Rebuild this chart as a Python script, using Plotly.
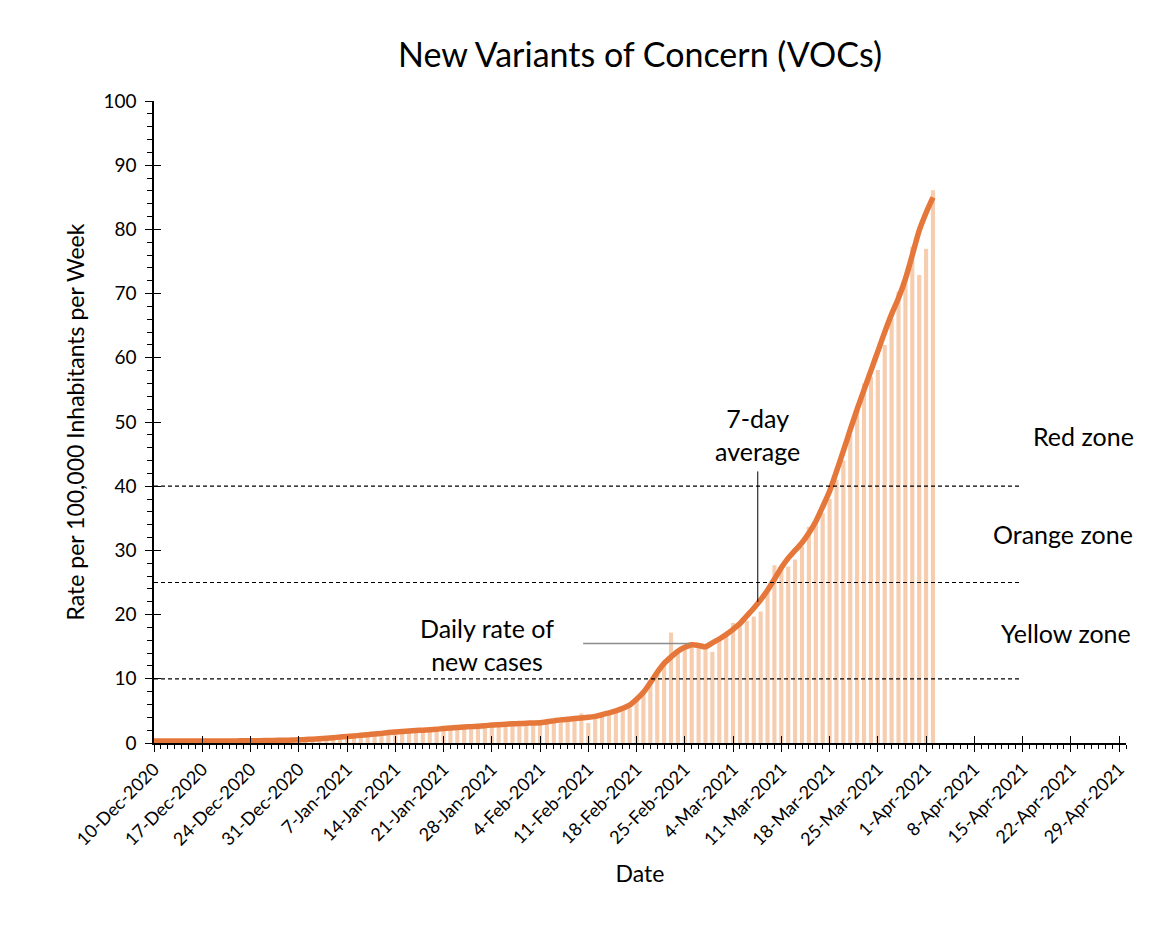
import plotly.graph_objects as go
import pandas as pd

# daily dates, 10-Dec-2020 .. 2-Apr-2021
dates = pd.date_range("2020-12-10", "2021-04-02", freq="D")

# daily rate of new VOC cases (per 100,000 per week)
daily_rate = [
    0.2, 0.3, 0.3, 0.2, 0.3, 0.3, 0.2,
    0.3, 0.3, 0.3, 0.3, 0.4, 0.3, 0.3,
    0.4, 0.4, 0.3, 0.4, 0.5, 0.4, 0.5,
    0.5, 0.6, 0.6, 0.7, 0.8, 0.8, 0.9,
    1.0, 1.1, 1.1, 1.3, 1.3, 1.4, 1.5,
    1.6, 1.7, 1.8, 1.8, 1.9, 2.0, 2.1,
    2.2, 2.2, 2.3, 2.4, 2.5, 2.5, 2.6,
    2.7, 2.8, 2.8, 2.9, 2.9, 3.0, 3.0,
    3.1, 3.2, 3.4, 3.5, 3.5, 3.6, 4.6,
    3.1, 4.0, 4.2, 4.4, 4.9, 5.1, 5.4,
    6.7, 7.8, 9.3, 11.1, 12.4, 17.2, 14.0,
    15.0, 15.0, 15.0, 15.3, 14.2, 16.3, 16.8,
    18.7, 18.6, 19.0, 19.7, 20.5, 23.5, 27.7,
    27.0, 27.5, 28.6, 30.6, 33.7, 34.2, 35.8,
    38.0, 41.0, 44.0, 48.0, 52.4, 56.0, 57.0,
    58.1, 62.0, 66.0, 70.3, 72.5, 77.3, 72.9,
    77.0, 86.1,
]

# 7-day average
avg_7day = [
    0.3, 0.3, 0.3, 0.3, 0.3, 0.3, 0.3,
    0.3, 0.3, 0.3, 0.3, 0.32, 0.33, 0.34,
    0.35, 0.36, 0.37, 0.39, 0.41, 0.43, 0.46,
    0.5, 0.55, 0.6, 0.67, 0.75, 0.83, 0.92,
    1.0, 1.1, 1.2, 1.3, 1.4, 1.5, 1.62,
    1.72, 1.8, 1.87, 1.94, 2.0, 2.07, 2.15,
    2.25, 2.33, 2.4, 2.48, 2.55, 2.62, 2.7,
    2.8, 2.86, 2.92, 2.98, 3.03, 3.08, 3.12,
    3.17, 3.3, 3.45, 3.6, 3.7, 3.8, 3.9,
    4.0, 4.15, 4.4, 4.7, 5.0, 5.4, 5.9,
    6.8, 7.9, 9.4, 11.0, 12.4, 13.4, 14.3,
    14.9, 15.3, 15.2, 15.0, 15.6, 16.2, 16.9,
    17.7, 18.6, 19.8, 21.0, 22.3, 23.8, 25.5,
    27.3, 28.8, 30.0, 31.2, 32.7, 34.5, 36.8,
    39.2, 42.3, 45.5, 48.8, 52.0, 55.0, 58.0,
    61.0, 64.0, 66.8, 69.3, 72.3, 76.0, 79.8,
    82.6, 85.0,
]

zone_limits = [10, 25, 40]
zone_names = ["Yellow zone", "Orange zone", "Red zone"]
zone_label_y = [17.1, 32.6, 47.8]
zone_label_x = [0.938, 0.935, 0.956]

FONT = "Lato"
x_start, x_end = "2020-12-10", "2021-04-30"
DAY = 86400000

fig = go.Figure()

fig.add_trace(go.Bar(
    x=dates, y=daily_rate,
    marker=dict(color="#F6CDAE", line=dict(width=0)),
    showlegend=False,
))
fig.add_trace(go.Scatter(
    x=dates, y=avg_7day, mode="lines",
    line=dict(color="#E5773A", width=5.5, shape="spline", smoothing=0.8),
    showlegend=False,
))
# dummy trace so the overlay axes (crossing tick halves) get drawn
fig.add_trace(go.Scatter(x=[], y=[], xaxis="x2", yaxis="y2", showlegend=False))

for v in zone_limits:
    fig.add_shape(type="line", xref="x", yref="y",
                  x0=x_start, x1="2021-04-14 16:00", y0=v, y1=v,
                  line=dict(color="black", width=1.2, dash="4px,3px"))

for name, ly, lx in zip(zone_names, zone_label_y, zone_label_x):
    fig.add_annotation(text=name, xref="paper", yref="y", x=lx, y=ly,
                       xanchor="center", showarrow=False,
                       font=dict(size=25, color="black"))

# pointer annotations
fig.add_annotation(text="7-day<br>average", xref="x", yref="y",
                   x="2021-03-07 14:00", y=48, xanchor="center",
                   showarrow=False, font=dict(size=25, color="black"))
fig.add_shape(type="line", xref="x", yref="y",
              x0="2021-03-07 14:00", x1="2021-03-07 14:00", y0=42.3, y1=22.0,
              line=dict(color="black", width=1))
fig.add_annotation(text="Daily rate of<br>new cases", xref="paper", yref="y",
                   x=(487 - 154) / 972, y=15.4, xanchor="center",
                   showarrow=False, font=dict(size=25, color="black"))
fig.add_shape(type="line", xref="x", yref="y",
              x0="2021-02-10 06:00", x1="2021-02-25 18:00", y0=15.5, y1=15.5,
              line=dict(color="#8c8c8c", width=1.5))

fig.update_layout(
    width=1160, height=940,
    paper_bgcolor="white", plot_bgcolor="white",
    font=dict(family=FONT, color="black"),
    title=dict(text="New Variants of Concern (VOCs)", x=0.5, xref="paper",
               y=0.95, yanchor="middle", font=dict(size=34, color="black")),
    margin=dict(l=146, r=42, t=93, b=205, autoexpand=False),
    bargap=0.4,
    xaxis=dict(
        type="date", range=[x_start, x_end], automargin=False,
        tick0=x_start, dtick=7 * DAY, tickformat="%-d-%b-%Y", tickangle=-45,
        ticks="outside", ticklen=7, tickwidth=1.2, tickcolor="black",
        minor=dict(dtick=DAY, tick0=x_start, ticks="outside", ticklen=4,
                   tickcolor="black", tickwidth=1),
        showline=True, linecolor="black", linewidth=1.5,
        showgrid=False, zeroline=False,
        tickfont=dict(size=18),
        title=dict(text="Date", font=dict(size=23), standoff=17),
    ),
    yaxis=dict(
        range=[0, 100], dtick=10, automargin=False,
        ticks="outside", ticklen=7, tickwidth=1.2, tickcolor="black",
        minor=dict(dtick=2, ticks="outside", ticklen=5, tickcolor="black",
                   tickwidth=1),
        showline=True, linecolor="black", linewidth=1.5,
        showgrid=False, zeroline=False,
        tickfont=dict(size=19), ticklabelstandoff=5,
        title=dict(text="Rate per 100,000 Inhabitants per Week",
                   font=dict(size=23), standoff=12),
    ),
    xaxis2=dict(
        type="date", range=[x_start, x_end], overlaying="x", anchor="y2",
        tick0=x_start, dtick=7 * DAY, ticks="inside", ticklen=7,
        tickwidth=1.2, tickcolor="black", showticklabels=False,
        showline=False, showgrid=False, zeroline=False,
    ),
    yaxis2=dict(
        range=[0, 100], dtick=10, overlaying="y", anchor="x2",
        ticks="inside", ticklen=7, tickwidth=1.2, tickcolor="black",
        showticklabels=False, showline=False, showgrid=False, zeroline=False,
    ),
)

fig.write_html("out.html")
